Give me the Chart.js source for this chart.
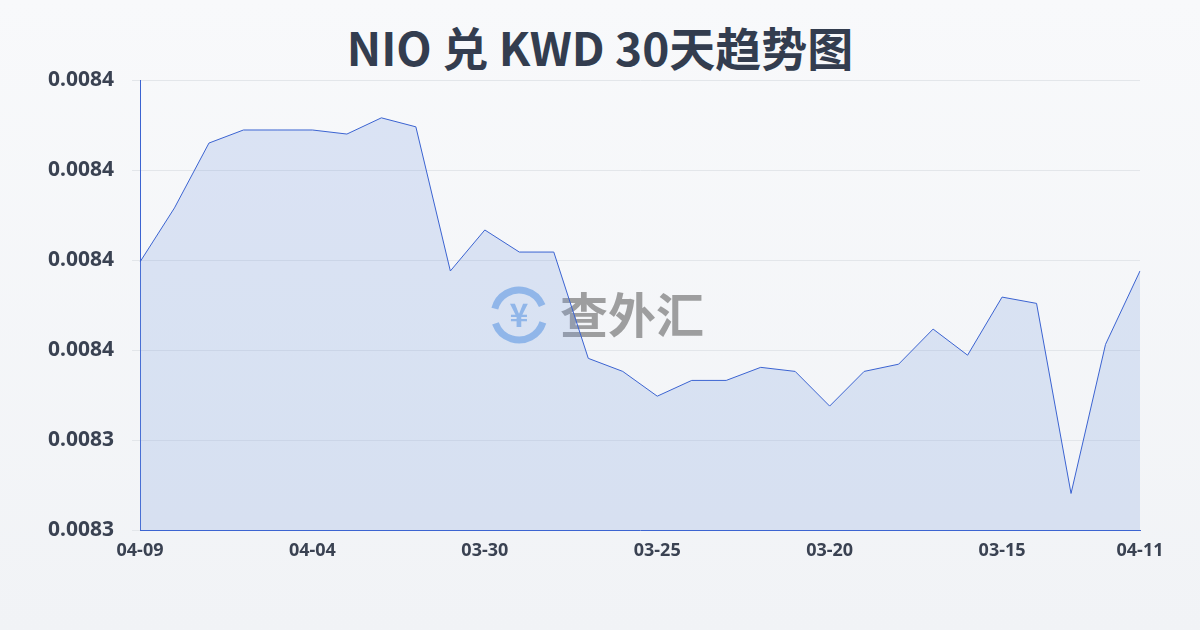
<!DOCTYPE html>
<html><head><meta charset="utf-8">
<script src="https://cdn.jsdelivr.net/npm/chart.js@4/dist/chart.umd.min.js"></script>
<style>
html,body{margin:0;padding:0;width:1200px;height:630px;background:linear-gradient(#f8f9fb,#f1f3f6);font-family:"Noto Sans","Noto Sans CJK SC",sans-serif;}
#t{position:absolute;top:13px;left:0;width:1200px;text-align:center;font-size:46px;font-weight:bold;color:#333d4f;font-family:"Noto Sans CJK SC","Noto Sans",sans-serif;}
#w{position:absolute;left:0;top:0;width:1200px;height:630px}
</style></head><body>
<div id="t">NIO 兑 KWD 30天趋势图</div>
<div id="w"><canvas id="c" width="1200" height="630"></canvas></div>
<script>
const labels=["04-09","04-08","04-07","04-06","04-05","04-04","04-03","04-02","04-01","03-31","03-30","03-29","03-28","03-27","03-26","03-25","03-24","03-23","03-22","03-21","03-20","03-19","03-18","03-17","03-16","03-15","03-14","03-13","03-12","04-11"];
const rates=[0.0083796,0.0083916,0.0084060,0.0084089,0.0084089,0.0084089,0.0084080,0.0084116,0.0084096,0.0083776,0.0083867,0.0083818,0.0083818,0.0083582,0.0083553,0.0083498,0.0083533,0.0083533,0.0083562,0.0083553,0.0083476,0.0083553,0.0083569,0.0083647,0.0083589,0.0083718,0.0083704,0.0083282,0.0083613,0.0083776];
const shown=[0,5,10,15,20,25,29];
Chart.defaults.font.family='"Noto Sans", sans-serif';
const wm={id:'wm',beforeDatasetsDraw(ch){const c=ch.ctx;c.save();c.globalAlpha=0.55;
c.strokeStyle='#4a90e2';c.lineWidth=7;c.beginPath();c.arc(519,315,25,0.3,2.8);c.stroke();c.beginPath();c.arc(519,315,25,3.4,5.9);c.stroke();
c.fillStyle='#4a90e2';c.font='bold 32px "Noto Sans CJK SC"';c.textAlign='center';c.textBaseline='middle';c.fillText('¥',519,315);
c.fillStyle='#555';c.font='bold 48px "Noto Sans CJK SC"';c.textAlign='left';c.fillText('查外汇',560,315);c.restore();}};
new Chart(document.getElementById('c'),{type:'line',plugins:[wm],
data:{labels:labels,datasets:[{data:rates,borderColor:'#3b63d1',borderWidth:1,backgroundColor:'rgba(120,155,225,0.22)',fill:'start',pointRadius:0,tension:0}]},
options:{responsive:false,animation:false,layout:{padding:{top:80,left:0,right:60,bottom:66}},
plugins:{legend:{display:false},tooltip:{enabled:false}},
scales:{x:{grid:{display:false},border:{color:'#3b63d1'},ticks:{autoSkip:false,maxRotation:0,padding:2,color:'#3a4252',font:{size:18,weight:'bold'},callback:(v,i)=>shown.includes(i)?labels[i]:''}},
y:{min:0.00832,max:0.00842,afterFit:s=>{s.width=140},grid:{color:'#e3e6ea'},border:{color:'#3b63d1'},ticks:{stepSize:0.00002,padding:18,color:'#3a4252',font:{size:21,weight:'bold'},callback:v=>v.toFixed(4)}}}}});
</script></body></html>
